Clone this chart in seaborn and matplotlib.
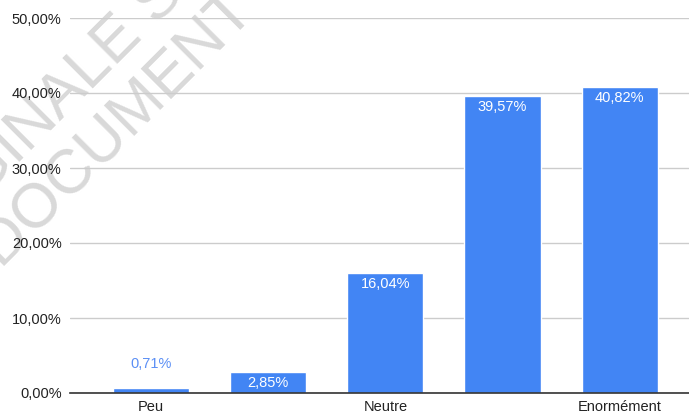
import matplotlib
matplotlib.use("Agg")
import matplotlib.pyplot as plt
import matplotlib.ticker as ticker
import seaborn as sns

# Données du graphique
levels = ["1", "2", "3", "4", "5"]
tick_labels = ["Peu", "", "Neutre", "", "Enormément"]
percentages = [0.71, 2.85, 16.04, 39.57, 40.82]

BAR_COLOR = "#4285F4"

sns.set_style("white")
plt.rcParams["font.family"] = ["Liberation Sans", "DejaVu Sans"]

fig = plt.figure(figsize=(6.89, 4.17), dpi=100)
ax = fig.add_axes([70 / 689, 24 / 417, 619 / 689, 375 / 417])
# axes au-dessus du filigrane, fond transparent
ax.set_zorder(2)
ax.patch.set_alpha(0)

sns.barplot(x=levels, y=percentages, color=BAR_COLOR, saturation=1,
            width=0.65, ax=ax, zorder=2)

ax.set_ylim(0, 50)
ax.set_xlim(-0.69, 4.59)
ax.yaxis.set_major_locator(ticker.MultipleLocator(10))
ax.yaxis.set_major_formatter(
    ticker.FuncFormatter(lambda v, _: f"{v:.2f}".replace(".", ",") + "%"))
ax.set_xticks(range(len(levels)))
ax.set_xticklabels(tick_labels)
ax.tick_params(axis="both", length=0, labelsize=10.5, labelcolor="#222222")
ax.tick_params(axis="y", pad=6)
ax.tick_params(axis="x", pad=5)
ax.set_xlabel("")
ax.set_ylabel("")

ax.grid(axis="y", color="#cccccc", linewidth=1, zorder=0)
ax.set_axisbelow(True)
for side in ["top", "right", "left"]:
    ax.spines[side].set_visible(False)
ax.spines["bottom"].set_color("#333333")
ax.spines["bottom"].set_linewidth(1.2)
ax.spines["bottom"].set_zorder(3)

# Étiquettes de valeurs
for bar, val in zip(ax.patches, percentages):
    txt = f"{val:.2f}".replace(".", ",") + "%"
    cx = bar.get_x() + bar.get_width() / 2
    top = bar.get_height()
    if val < 2:
        ax.annotate(txt, (cx, top), xytext=(0, 12), textcoords="offset points",
                    ha="center", va="bottom", color="#5b8ff5", fontsize=10.5)
    else:
        ax.annotate(txt, (cx, top), xytext=(0, -3), textcoords="offset points",
                    ha="center", va="top", color="white", fontsize=10.5)

# Filigrane (départ de la ligne de base, en pixels)
wm = dict(color="#d9d9d9", fontsize=45, rotation=45, rotation_mode="anchor",
          ha="left", va="baseline", zorder=1)
fig.text(-96 / 689, 1 - 279 / 417, "ORIGINALE SUJET", **wm)
fig.text(2 / 689, 1 - 270 / 417, "DOCUMENT SOUMIS", **wm)

fig.savefig("out.png", dpi=100)
